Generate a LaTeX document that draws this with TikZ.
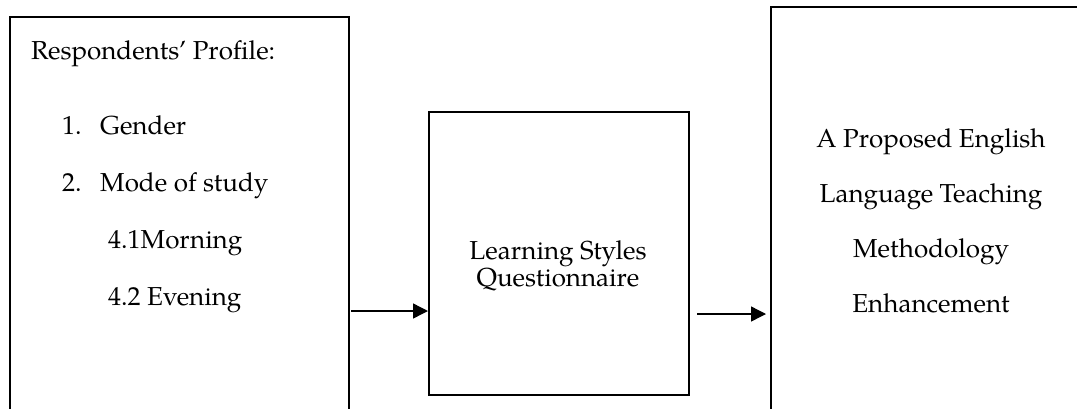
\documentclass[tikz,border=0pt]{standalone}
\usepackage{fontspec}
\setmainfont{TeX Gyre Pagella}
\usetikzlibrary{arrows.meta}
\begin{document}
\begin{tikzpicture}[x=1pt,y=-1pt,
  box/.style={draw=black,line width=1.6pt,inner sep=0pt,anchor=north west},
  ltxt/.style={anchor=base west,inner sep=0pt,font=\fontsize{26}{31}\selectfont},
  ctxt/.style={anchor=base,inner sep=0pt,font=\fontsize{26}{31}\selectfont},
  arr/.style={line width=1.4pt,-{Triangle[length=15pt,width=15pt]}}]
\path[use as bounding box] (0,0) rectangle (1077,408);
\clip (0,0) rectangle (1077,408);
% boxes
\node[box,minimum width=339pt,minimum height=420pt] (profile) at (9,16) {};
\node[box,minimum width=260pt,minimum height=283pt] (quest) at (428,111) {};
\node[box,minimum width=320pt,minimum height=420pt] (outcome) at (770,6) {};
% left texts
\node[ltxt] (t0) at (31,59) {Respondents' Profile:};
\node[ltxt] (n1) at (62,134) {1.};
\node[ltxt] (t1) at (100,134) {Gender};
\node[ltxt] (n2) at (62,191) {2.};
\node[ltxt] (t2) at (100,191) {Mode of study};
\node[ltxt] (t3) at (108,248) {4.1Morning};
\node[ltxt] (t4) at (108,305) {4.2 Evening};
% middle texts
\node[ctxt] (q1) at (558,259) {Learning Styles};
\node[ctxt] (q2) at (558,286) {Questionnaire};
% right texts
\node[ctxt] (r1) at (931,147) {A Proposed English};
\node[ctxt] (r2) at (931,202) {Language Teaching};
\node[ctxt] (r3) at (931,257) {Methodology};
\node[ctxt] (r4) at (931,312) {Enhancement};
% arrows
\coordinate (a1) at (351,311);
\coordinate (a2) at (697,314);
\coordinate (a2e) at (766,314);
\draw[arr] (a1) -- (a1 -| quest.west);
\draw[arr] (a2) -- (a2e);
\end{tikzpicture}
\end{document}
